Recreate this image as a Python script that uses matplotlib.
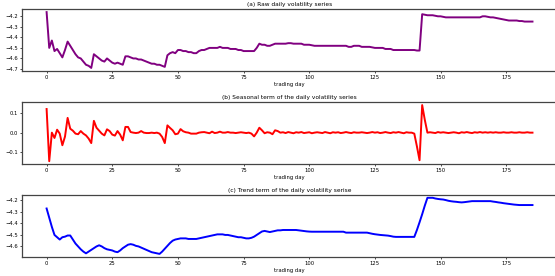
import numpy as np
import matplotlib
matplotlib.use("Agg")
from matplotlib import pyplot as plt
from matplotlib.ticker import MultipleLocator

# values, one per trading day (0..185)
raw = [-4.16, -4.50, -4.43, -4.53, -4.51, -4.55, -4.59, -4.52, -4.44, -4.48,
       -4.52, -4.56, -4.59, -4.60, -4.63, -4.66, -4.67, -4.69, -4.56, -4.58,
       -4.60, -4.62, -4.63, -4.60, -4.62, -4.64, -4.65, -4.64, -4.65, -4.66,
       -4.58, -4.58, -4.59, -4.60, -4.60, -4.61, -4.61, -4.62, -4.63, -4.64,
       -4.65, -4.65, -4.66, -4.66, -4.67, -4.68, -4.57, -4.55, -4.54, -4.55,
       -4.52, -4.52, -4.53, -4.53, -4.54, -4.54, -4.55, -4.55, -4.53, -4.52,
       -4.52, -4.51, -4.50, -4.50, -4.50, -4.50, -4.49, -4.50, -4.50, -4.50,
       -4.51, -4.51, -4.51, -4.52, -4.52, -4.53, -4.53, -4.53, -4.53, -4.53,
       -4.50, -4.46, -4.47, -4.47, -4.48, -4.48, -4.47, -4.46, -4.46, -4.46,
       -4.46, -4.46, -4.455, -4.455, -4.46, -4.46, -4.46, -4.46, -4.47, -4.47,
       -4.47, -4.475, -4.48, -4.48, -4.48, -4.48, -4.48, -4.48, -4.48, -4.48,
       -4.48, -4.48, -4.48, -4.48, -4.48, -4.49, -4.49, -4.48, -4.48, -4.48,
       -4.49, -4.49, -4.49, -4.49, -4.495, -4.50, -4.50, -4.50, -4.50, -4.51,
       -4.51, -4.51, -4.52, -4.52, -4.52, -4.52, -4.52, -4.52, -4.52, -4.52,
       -4.52, -4.525, -4.525, -4.18, -4.185, -4.19, -4.19, -4.19, -4.195, -4.20,
       -4.20, -4.205, -4.21, -4.21, -4.21, -4.21, -4.21, -4.21, -4.21, -4.21,
       -4.21, -4.21, -4.21, -4.21, -4.21, -4.21, -4.20, -4.20, -4.205, -4.21,
       -4.21, -4.215, -4.22, -4.225, -4.23, -4.235, -4.24, -4.24, -4.24, -4.24,
       -4.245, -4.245, -4.25, -4.25, -4.25, -4.25]

seasonal = [0.12, -0.145, 0.0, -0.027, 0.015, -0.005, -0.064, -0.02, 0.075, 0.02,
            0.01, -0.005, -0.008, 0.008, -0.005, -0.014, -0.03, -0.053, 0.06, 0.025,
            0.01, -0.005, -0.014, 0.017, 0.008, -0.01, -0.015, 0.008, -0.01, -0.039,
            0.029, 0.029, 0.003, 0.0, -0.002, 0.0, 0.008, 0.0, -0.002, -0.002,
            0.0, -0.002, 0.0, -0.005, -0.022, -0.053, 0.037, 0.024, 0.012, -0.008,
            -0.005, 0.018, 0.007, 0.002, 0.0, -0.005, -0.005, -0.005, 0.0, 0.002,
            0.003, 0.0, -0.003, 0.005, -0.002, 0.0, 0.005, 0.0, 0.0, 0.003,
            0.0, 0.0, -0.002, 0.0, 0.002, 0.0, -0.002, 0.0, -0.005, -0.019,
            0.0, 0.025, 0.012, -0.003, 0.002, 0.0, -0.008, 0.012, 0.008, 0.0,
            0.002, -0.002, 0.003, 0.0, -0.003, 0.002, 0.0, 0.003, -0.002, 0.0,
            0.002, -0.003, 0.0, 0.002, 0.0, -0.002, 0.003, 0.0, -0.003, 0.002,
            0.0, 0.002, -0.002, 0.0, 0.003, 0.0, -0.002, 0.002, 0.0, 0.0,
            0.002, 0.0, -0.002, 0.0, 0.003, 0.0, 0.002, -0.002, 0.0, 0.003,
            0.0, -0.002, 0.002, 0.0, 0.003, 0.0, -0.003, 0.002, 0.0, 0.0,
            -0.005, -0.07, -0.14, 0.14, 0.065, 0.0, 0.002, 0.0, -0.002, 0.003,
            0.0, 0.002, 0.0, -0.002, 0.0, 0.002, 0.0, -0.003, 0.002, 0.0,
            0.003, 0.0, -0.002, 0.002, 0.0, 0.003, 0.0, 0.002, 0.0, 0.002,
            0.0, 0.002, 0.0, 0.0, 0.002, 0.0, 0.0, 0.002, 0.0, 0.0,
            0.002, 0.0, 0.0, 0.002, 0.0, 0.0]

trend = [-4.27, -4.35, -4.43, -4.50, -4.52, -4.54, -4.52, -4.515, -4.505, -4.505,
         -4.54, -4.575, -4.60, -4.625, -4.645, -4.66, -4.645, -4.63, -4.615, -4.60,
         -4.59, -4.60, -4.615, -4.625, -4.63, -4.635, -4.645, -4.65, -4.635, -4.615,
         -4.60, -4.585, -4.58, -4.585, -4.595, -4.60, -4.61, -4.62, -4.63, -4.64,
         -4.65, -4.655, -4.66, -4.665, -4.645, -4.62, -4.595, -4.57, -4.55, -4.54,
         -4.535, -4.53, -4.53, -4.53, -4.535, -4.535, -4.535, -4.535, -4.53, -4.525,
         -4.52, -4.515, -4.51, -4.505, -4.50, -4.495, -4.495, -4.495, -4.50, -4.50,
         -4.505, -4.51, -4.515, -4.52, -4.52, -4.525, -4.53, -4.53, -4.525, -4.515,
         -4.50, -4.485, -4.47, -4.465, -4.47, -4.475, -4.47, -4.465, -4.46, -4.46,
         -4.457, -4.457, -4.457, -4.457, -4.457, -4.457, -4.46, -4.463, -4.466, -4.469,
         -4.471, -4.472, -4.472, -4.472, -4.472, -4.472, -4.472, -4.472, -4.472, -4.472,
         -4.472, -4.472, -4.472, -4.472, -4.48, -4.48, -4.48, -4.48, -4.48, -4.48,
         -4.48, -4.48, -4.48, -4.485, -4.49, -4.494, -4.497, -4.50, -4.502, -4.504,
         -4.506, -4.51, -4.515, -4.517, -4.517, -4.517, -4.517, -4.517, -4.517, -4.517,
         -4.517, -4.457, -4.39, -4.32, -4.245, -4.177, -4.177, -4.177, -4.183, -4.187,
         -4.19, -4.192, -4.197, -4.203, -4.207, -4.21, -4.212, -4.215, -4.217, -4.215,
         -4.212, -4.209, -4.206, -4.206, -4.206, -4.206, -4.206, -4.206, -4.206, -4.206,
         -4.21, -4.213, -4.217, -4.22, -4.224, -4.227, -4.23, -4.233, -4.236, -4.238,
         -4.24, -4.24, -4.24, -4.24, -4.24, -4.24]

titles = ["(a) Raw daily volatility series",
          "(b) Seasonal term of the daily volatility series",
          "(c) Trend term of the daily volatility serise"]
colors = ["purple", "red", "blue"]
series = [raw, seasonal, trend]

fig = plt.figure(figsize=(5.55, 2.76), dpi=100)

# axes boxes in figure fractions (right edge runs slightly off the figure)
boxes = [[0.0402, 0.7438, 0.963, 0.2225],
         [0.0402, 0.4058, 0.963, 0.2236],
         [0.0402, 0.0699, 0.963, 0.2236]]

for box, vals, col, title in zip(boxes, series, colors, titles):
    ax = fig.add_axes(box)
    days = np.arange(len(vals))
    ax.plot(days, vals, color=col, linewidth=1.4)
    ax.set_title(title, fontsize=4.2, pad=2.5)
    ax.set_xlabel("trading day", fontsize=3.8, labelpad=1.5)
    ax.set_xticks([0, 25, 50, 75, 100, 125, 150, 175])
    ax.yaxis.set_major_locator(MultipleLocator(0.1))
    ax.tick_params(labelsize=3.8, length=1.5, width=0.5, pad=1.5)
    for s in ax.spines.values():
        s.set_color("#444444")
        s.set_linewidth(0.9)
    ax.spines["right"].set_visible(False)

fig.savefig("out.png", dpi=100)
